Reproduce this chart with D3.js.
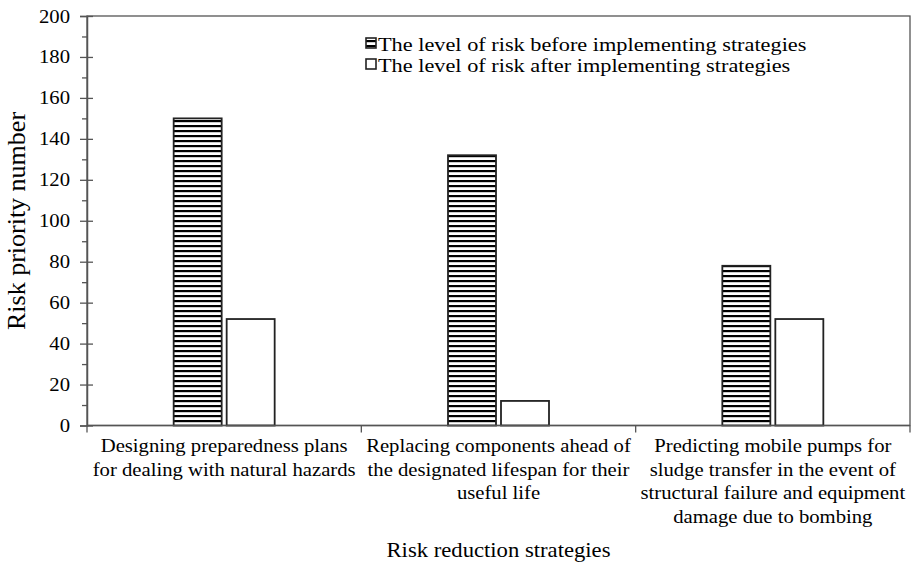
<!DOCTYPE html>
<html><head><meta charset="utf-8">
<script src="https://cdn.jsdelivr.net/npm/d3@7"></script>
<style>body{margin:0;background:#fff}svg{display:block}</style>
</head><body><svg id="c" width="913" height="570"></svg>
<script>
const categories = [
  ["Designing preparedness plans","for dealing with natural hazards"],
  ["Replacing components ahead of","the designated lifespan for their","useful life"],
  ["Predicting mobile pumps for","sludge transfer in the event of","structural failure and equipment","damage due to bombing"]
];
const seriesNames = ["The level of risk before implementing strategies","The level of risk after implementing strategies"];
const before = [150, 132, 78];
const after = [52, 12, 52];
const yTicks = [0,20,40,60,80,100,120,140,160,180,200];
const yMinor = [10,30,50,70,90,110,130,150,170,190];

const FONT = "'Liberation Serif','Times New Roman',serif";
const SX = 1.15;
const svg = d3.select("#c");
const L=87, R=910, T=16, B=425.5;
const x = d3.scaleBand().domain(d3.range(categories.length)).range([L,R]);
const y = d3.scaleLinear().domain([0,200]).range([B,T]);

function htext(parent, px, py, size, anchor, str, sx){
  return parent.append("text").attr("transform",`translate(${px},${py}) scale(${sx===undefined?SX:sx},1)`)
    .attr("text-anchor",anchor).attr("font-size",size).style("font-family",FONT).attr("fill","#000").text(str);
}

const defs = svg.append("defs");
const pat = defs.append("pattern").attr("id","hatch").attr("patternUnits","userSpaceOnUse")
  .attr("width",10).attr("height",5);
pat.append("rect").attr("width",10).attr("height",5).attr("fill","#fff");
pat.append("rect").attr("y",0).attr("width",10).attr("height",2.2).attr("fill","#000");

const bw = 48, gap = 5;
const g = svg.append("g");
g.append("rect").attr("x",L).attr("y",T).attr("width",R-L).attr("height",B-T)
  .attr("fill","none").attr("stroke","#555").attr("stroke-width",1.3);

const data = categories.map((c,i)=>({i,b:before[i],a:after[i]}));
g.selectAll(".bb").data(data).join("rect")
  .attr("x",d=>x(d.i)+x.bandwidth()/2-gap/2-bw).attr("y",d=>y(d.b))
  .attr("width",bw).attr("height",d=>B-y(d.b))
  .attr("fill","url(#hatch)").attr("stroke","#222").attr("stroke-width",1.8);
g.selectAll(".ba").data(data).join("rect")
  .attr("x",d=>x(d.i)+x.bandwidth()/2+gap/2).attr("y",d=>y(d.a))
  .attr("width",bw).attr("height",d=>B-y(d.a))
  .attr("fill","#fff").attr("stroke","#222").attr("stroke-width",1.8);

// y axis
const ya = svg.append("g").attr("transform",`translate(${L},0)`)
  .call(d3.axisLeft(y).tickValues(yTicks).tickSize(7).tickFormat(""));
ya.select(".domain").attr("stroke","#555").attr("stroke-width",1.5);
ya.selectAll(".tick line").attr("stroke","#555").attr("stroke-width",1.3).attr("x2",6).attr("x1",-7);
yTicks.forEach(v=>htext(svg, L-17, y(v)+6.5, 18, "end", d3.format("d")(v)));
const ym = svg.append("g").attr("transform",`translate(${L},0)`).call(d3.axisLeft(y).tickValues(yMinor).tickSize(5).tickFormat(""));
ym.select(".domain").remove();
ym.selectAll(".tick line").attr("stroke","#555").attr("stroke-width",1.3);

// x axis
const xb = [L, L+x.step(), L+2*x.step(), R];
const xa = svg.append("g");
xa.append("line").attr("x1",L).attr("x2",R).attr("y1",B).attr("y2",B).attr("stroke","#555").attr("stroke-width",1.5);
xa.selectAll(".xt").data(xb).join("line").attr("x1",d=>d).attr("x2",d=>d).attr("y1",B).attr("y2",B+7)
  .attr("stroke","#555").attr("stroke-width",1.3);

categories.forEach((lines,i)=>{
  lines.forEach((ln,j)=>htext(svg, x(i)+x.bandwidth()/2, 452+j*23.5, 18, "middle", ln));
});

htext(svg, (L+R)/2, 557, 22, "middle", "Risk reduction strategies", 1.03);
svg.append("text").attr("transform","translate(25,221) rotate(-90)").attr("text-anchor","middle")
  .attr("font-size",26).style("font-family",FONT).text("Risk priority number");

const lg = svg.append("g");
seriesNames.forEach((s,i)=>{
  const yy = 51 + i*21;
  lg.append("rect").attr("x",366).attr("y",yy-13).attr("width",10).attr("height",10)
    .attr("fill",i===0?"url(#hatch)":"#fff").attr("stroke","#222").attr("stroke-width",1.6);
  htext(lg, 378, yy, 19.4, "start", s);
});
</script></body></html>
